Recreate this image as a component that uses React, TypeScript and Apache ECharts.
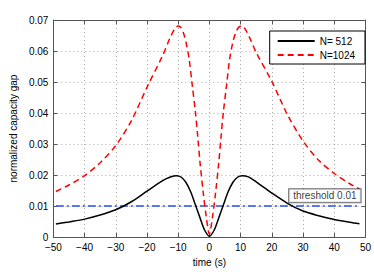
import React, { useEffect, useRef } from "react";
import * as echarts from "echarts";

const xTicks = [-50, -40, -30, -20, -10, 0, 10, 20, 30, 40, 50];
const yTicks = [0, 0.01, 0.02, 0.03, 0.04, 0.05, 0.06, 0.07];

const timeN512 = [-49.2, -45, -40, -35, -30, -25, -20, -15, -12.5, -10.5, -9, -7.5, -6, -4.5, -3, -1.5, 0, 1.5, 3, 4.5, 6, 7.5, 9, 10.5, 12.5, 15, 20, 25, 30, 35, 40, 45, 48.1];
const gapN512 = [0.0042, 0.0049, 0.0058, 0.0071, 0.0088, 0.0114, 0.0148, 0.0182, 0.0194, 0.0198, 0.0193, 0.0176, 0.0146, 0.0104, 0.0062, 0.0022, 0.0003, 0.0022, 0.0062, 0.0104, 0.0146, 0.0176, 0.0193, 0.0198, 0.0194, 0.0178, 0.0142, 0.0109, 0.0084, 0.0069, 0.0057, 0.0048, 0.0043];

const timeN1024 = [-49.2, -45, -40, -35, -30, -25, -20, -15, -12.5, -11, -10, -9, -8.2, -7.5, -6.5, -5.5, -4.5, -3.7, -3, -2, -1, 0, 1, 2, 3, 3.7, 4.5, 5.5, 6.5, 7.5, 8.3, 9.2, 10.2, 11.2, 12.8, 15, 20, 25, 30, 35, 40, 45, 48.1];
const gapN1024 = [0.0147, 0.0168, 0.0198, 0.024, 0.0295, 0.0375, 0.0483, 0.0585, 0.0645, 0.0673, 0.0681, 0.0674, 0.0655, 0.0628, 0.0575, 0.049, 0.0405, 0.032, 0.024, 0.0145, 0.0065, 0.001, 0.0065, 0.0145, 0.024, 0.032, 0.0405, 0.049, 0.0575, 0.0628, 0.0655, 0.0674, 0.0681, 0.0675, 0.0645, 0.0595, 0.0502, 0.0395, 0.031, 0.0248, 0.0205, 0.0172, 0.0155];

const thresholdTime = [-49.2, 48.1];
const thresholdValue = 0.01;
const thresholdLabel = "threshold 0.01";
const thresholdLabelAt = [37, 0.0133];

const FONT = "'Liberation Sans', Arial, sans-serif";

function fmtX(v: number) {
  return v < 0 ? "\u2212" + Math.abs(v) : String(v);
}
function fmtY(v: number) {
  return v === 0 ? "0" : v.toFixed(2);
}

export default function App() {
  const ref = useRef<HTMLDivElement>(null);
  useEffect(() => {
    if (!ref.current) return;
    const chart = echarts.init(ref.current, undefined, { renderer: "svg" });
    const axisLineStyle = { color: "#555", width: 1 };
    const splitStyle = { color: "#aaaaaa", type: [1, 3], width: 1 };
    const option: any = {
      animation: false,
      backgroundColor: "#fff",
      textStyle: { fontFamily: FONT },
      grid: { left: 39, top: 20, right: 6, bottom: 31, containLabel: false },
      legend: {
        data: ["N= 512", "N=1024"],
        orient: "vertical",
        right: 9,
        top: 31,
        itemWidth: 37,
        itemHeight: 8,
        itemGap: 4,
        padding: [5, 10, 4, 7],
        borderColor: "#000",
        borderWidth: 1,
        backgroundColor: "#fff",
        itemStyle: { opacity: 0 },
        textStyle: { fontSize: 10, color: "#000", fontFamily: FONT },
      },
      xAxis: [
        {
          type: "value",
          min: xTicks[0],
          max: xTicks[xTicks.length - 1],
          interval: 10,
          name: "time (s)",
          nameLocation: "middle",
          nameGap: 16,
          nameTextStyle: { fontSize: 10, color: "#000", fontFamily: FONT },
          axisLine: { onZero: false, lineStyle: axisLineStyle },
          axisTick: { inside: true, length: 4, lineStyle: axisLineStyle },
          axisLabel: { fontSize: 10, color: "#000", margin: 5, formatter: fmtX, fontFamily: FONT },
          splitLine: { show: true, lineStyle: splitStyle },
        },
        {
          type: "value",
          position: "top",
          min: xTicks[0],
          max: xTicks[xTicks.length - 1],
          interval: 10,
          axisLine: { show: true, onZero: false, lineStyle: axisLineStyle },
          axisTick: { show: true, inside: true, length: 4, lineStyle: axisLineStyle },
          axisLabel: { show: false },
          splitLine: { show: false },
        },
      ],
      yAxis: [
        {
          type: "value",
          min: yTicks[0],
          max: yTicks[yTicks.length - 1],
          interval: 0.01,
          name: "normalized capacity gap",
          nameLocation: "middle",
          nameGap: 29,
          nameTextStyle: { fontSize: 10, color: "#000", fontFamily: FONT },
          axisLine: { show: true, onZero: false, lineStyle: axisLineStyle },
          axisTick: { show: true, inside: true, length: 4, lineStyle: axisLineStyle },
          axisLabel: { fontSize: 10, color: "#000", margin: 5, formatter: fmtY, fontFamily: FONT },
          splitLine: { show: true, lineStyle: splitStyle },
        },
        {
          type: "value",
          position: "right",
          min: yTicks[0],
          max: yTicks[yTicks.length - 1],
          interval: 0.01,
          axisLine: { show: true, onZero: false, lineStyle: axisLineStyle },
          axisTick: { show: true, inside: true, length: 4, lineStyle: axisLineStyle },
          axisLabel: { show: false },
          splitLine: { show: false },
        },
      ],
      series: [
        {
          name: "threshold",
          type: "line",
          data: thresholdTime.map((t) => [t, thresholdValue]),
          symbol: "none",
          lineStyle: { color: "#2a4cf0", width: 1.5, type: [8, 3, 2, 3] },
          z: 2,
        },
        {
          name: "N= 512",
          type: "line",
          data: timeN512.map((t, i) => [t, gapN512[i]]),
          symbol: "none",
          smooth: 0.3,
          itemStyle: { color: "#000" },
          lineStyle: { color: "#000", width: 1.5 },
          z: 3,
        },
        {
          name: "N=1024",
          type: "line",
          data: timeN1024.map((t, i) => [t, gapN1024[i]]),
          symbol: "none",
          smooth: 0.3,
          itemStyle: { color: "#ff0000" },
          lineStyle: { color: "#ff0000", width: 1.5, type: [6, 4] },
          z: 4,
        },
        {
          name: "label",
          type: "scatter",
          data: [thresholdLabelAt],
          symbolSize: 0,
          silent: true,
          z: 5,
          label: {
            show: true,
            position: "inside",
            formatter: thresholdLabel,
            fontSize: 10,
            color: "#000",
            fontFamily: FONT,
            backgroundColor: "#fff",
            borderColor: "#444",
            borderWidth: 1,
            padding: [2, 4, 1, 4],
          },
        },
      ],
    };
    chart.setOption(option);
    return () => chart.dispose();
  }, []);
  return (
    <div
      ref={ref}
      style={{ position: "fixed", left: 0, top: 0, width: 374, height: 272 }}
    />
  );
}
